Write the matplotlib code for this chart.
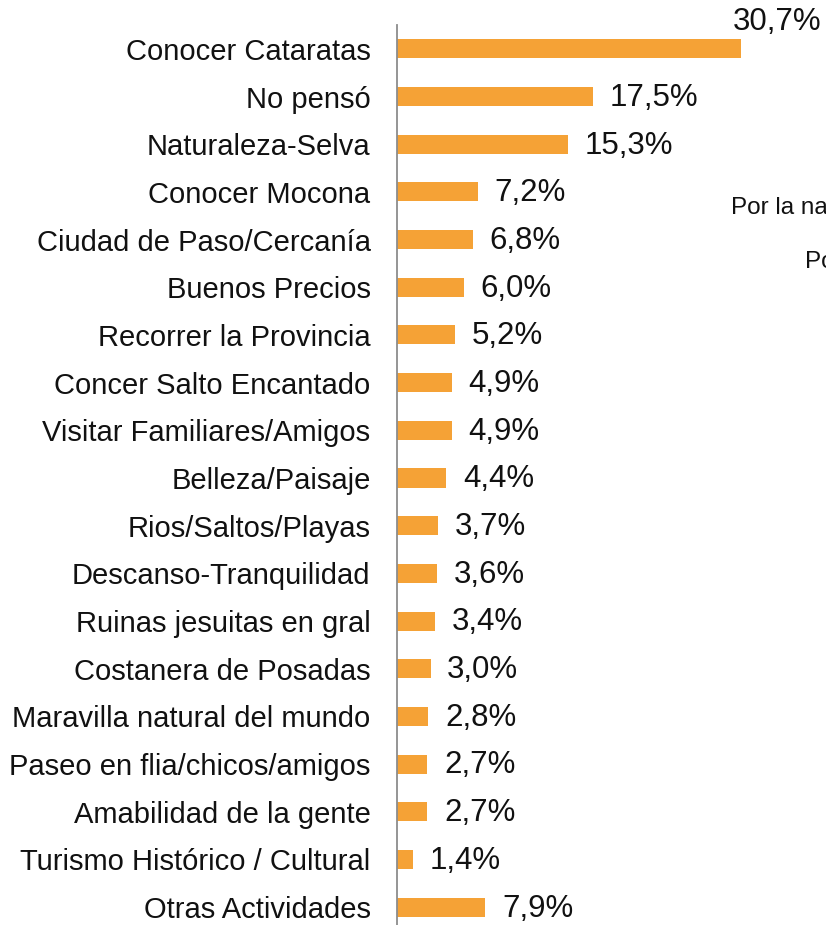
import matplotlib
matplotlib.use('Agg')
import matplotlib.pyplot as plt

# motivos de la visita (orden de arriba hacia abajo)
categories = [
    'Conocer Cataratas', 'No pensó', 'Naturaleza-Selva', 'Conocer Mocona',
    'Ciudad de Paso/Cercanía', 'Buenos Precios', 'Recorrer la Provincia',
    'Concer Salto Encantado', 'Visitar Familiares/Amigos', 'Belleza/Paisaje',
    'Rios/Saltos/Playas', 'Descanso-Tranquilidad', 'Ruinas jesuitas en gral',
    'Costanera de Posadas', 'Maravilla natural del mundo',
    'Paseo en flia/chicos/amigos', 'Amabilidad de la gente',
    'Turismo Histórico / Cultural', 'Otras Actividades',
]
values = [30.7, 17.5, 15.3, 7.2, 6.8, 6.0, 5.2, 4.9, 4.9, 4.4,
          3.7, 3.6, 3.4, 3.0, 2.8, 2.7, 2.7, 1.4, 7.9]

# texto recortado de un grafico vecino
side_texts = ['Por la naturaleza', 'Por']

plt.rcParams['font.family'] = ['Liberation Sans', 'DejaVu Sans']

fig = plt.figure(figsize=(8.26, 9.25), dpi=100)
ax = fig.add_axes([397 / 826, -6 / 925, 429 / 826, 906 / 925])

ypos = list(range(len(categories)))
ax.barh(ypos, values, height=0.4, color='#F5A236')
ax.set_ylim(len(categories) - 0.5, -0.5)
ax.set_xlim(0, 429 / 11.2)

ax.set_yticks(ypos)
ax.set_yticklabels(categories, fontsize=21, color='#111111')
ax.tick_params(axis='y', length=0, pad=19)
ax.set_xticks([])
for s in ['top', 'right', 'bottom']:
    ax.spines[s].set_visible(False)
ax.spines['left'].set_color('#8c8c8c')
ax.spines['left'].set_linewidth(1.3)

for i, v in enumerate(values):
    lab = ('%.1f%%' % v).replace('.', ',')
    if i == 0:
        ax.annotate(lab, xy=(v, i), xytext=(-6, 19), textcoords='offset points',
                    ha='left', va='center', fontsize=22.5, color='#111111',
                    annotation_clip=False)
    else:
        ax.annotate(lab, xy=(v, i), xytext=(12, -1), textcoords='offset points',
                    ha='left', va='center', fontsize=22.5, color='#111111')

fig.text(731 / 826, 1 - 208 / 925, side_texts[0], fontsize=17.5,
         ha='left', va='center', color='#111111')
fig.text(805 / 826, 1 - 262 / 925, side_texts[1], fontsize=17.5,
         ha='left', va='center', color='#111111')

plt.savefig('out.png', dpi=100)
